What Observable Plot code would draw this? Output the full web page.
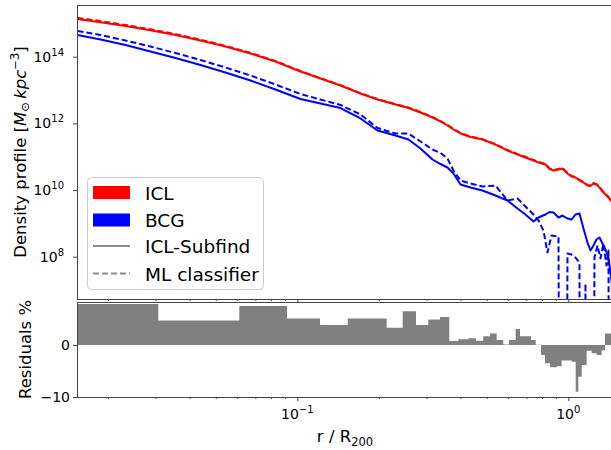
<!DOCTYPE html>
<html><head><meta charset="utf-8">
<script src="https://cdn.jsdelivr.net/npm/d3@7"></script>
<script src="https://cdn.jsdelivr.net/npm/@observablehq/plot@0.6"></script>
<style>
body{margin:0;background:#fff;}
#wrap{position:relative;width:611px;height:450px;overflow:hidden;background:#fff;}
#topPanel{position:absolute;left:0;top:0;}
#botPanel{position:absolute;left:0;top:302px;}
svg{font-family:"DejaVu Sans",sans-serif;}
</style></head><body><div id="wrap"><div id="topPanel"></div><div id="botPanel"></div></div>
<script>
// radius in units of R200 (shared grid for ICL and BCG Subfind profiles)
const r = [0.01538, 0.01871, 0.02313, 0.02860, 0.03537, 0.04375, 0.05409, 0.06690, 0.08273, 0.1023,
  0.1213, 0.1438, 0.1703, 0.1968, 0.2293, 0.2561, 0.2836, 0.3141, 0.3363, 0.3567,
  0.3753, 0.3985, 0.4338, 0.4802, 0.5365, 0.5940, 0.6466, 0.6920, 0.7407, 0.7730,
  0.8204, 0.8487, 0.8780, 0.9163, 0.9480, 0.9890, 1.0233, 1.0585, 1.0951, 1.1330,
  1.1722, 1.2025, 1.2334, 1.2652, 1.2981, 1.3317, 1.3659, 1.4012, 1.4376, 1.4870];
// density profiles [M_sun kpc^-3]
const iclSubfind = [1.40e15, 1.11e15, 8.63e14, 6.41e14, 4.63e14, 3.17e14, 2.09e14, 1.29e14, 7.43e13, 3.72e13,
  2.30e13, 1.42e13, 8.14e12, 5.38e12, 3.81e12, 2.99e12, 2.19e12, 1.55e12, 1.18e12, 8.93e11,
  6.78e11, 5.14e11, 4.04e11, 3.40e11, 2.40e11, 1.59e11, 1.20e11, 9.79e10, 7.96e10, 6.93e10,
  6.04e10, 4.42e10, 3.99e10, 4.27e10, 4.58e10, 3.24e10, 2.64e10, 2.46e10, 2.00e10, 1.74e10,
  1.41e10, 1.37e10, 1.62e10, 1.52e10, 1.23e10, 9.35e9, 7.60e9, 6.18e9, 4.69e9, 3.56e9];
const iclML = [1.52e15, 1.21e15, 9.31e14, 6.87e14, 4.93e14, 3.35e14, 2.20e14, 1.35e14, 7.69e13, 3.85e13,
  2.36e13, 1.45e13, 8.37e12, 5.57e12, 3.92e12, 3.10e12, 2.27e12, 1.60e12, 1.21e12, 9.24e11,
  7.06e11, 5.32e11, 4.18e11, 3.49e11, 2.47e11, 1.64e11, 1.25e11, 1.03e11, 8.24e10, 7.22e10,
  6.34e10, 4.64e10, 4.13e10, 4.45e10, 4.71e10, 3.38e10, 2.75e10, 2.53e10, 2.10e10, 1.80e10,
  1.47e10, 1.41e10, 1.67e10, 1.57e10, 1.29e10, 9.81e9, 7.86e9, 6.48e9, 4.88e9, 3.81e9];
const bcgSubfind = [4.63e14, 3.40e14, 2.32e14, 1.48e14, 9.46e13, 5.83e13, 3.48e13, 2.00e13, 1.07e13, 5.57e12,
  4.08e12, 2.99e12, 1.45e12, 6.32e11, 4.48e11, 3.40e11, 1.82e11, 8.53e10, 6.25e10, 4.91e10,
  3.24e10, 1.52e10, 1.23e10, 1.00e10, 7.09e9, 5.02e9, 2.89e9, 1.91e9, 1.18e9, 1.55e9,
  1.91e9, 2.27e9, 2.19e9, 1.55e9, 1.78e9, 1.45e9, 1.35e9, 1.91e9, 2.05e9, 7.25e8,
  2.75e8, 1.59e8, 2.24e8, 3.39e8, 3.89e8, 2.57e8, 1.70e8, 9.77e7, 2.00e7, 6.3e5];
// BCG from the ML classifier (own radial grid; 0 = empty bin)
const rML = [0.01538, 0.01871, 0.02313, 0.02860, 0.03537, 0.04375, 0.05409, 0.06690, 0.08273, 0.1023,
  0.1213, 0.1438, 0.1703, 0.1968, 0.2293, 0.2561, 0.2836, 0.3141, 0.3363, 0.3567,
  0.3753, 0.3985, 0.4338, 0.4802, 0.5365, 0.5940, 0.6466, 0.6920, 0.7407, 0.7730,
  0.8065, 0.8344, 0.8634, 0.9163, 0.9480, 0.9890, 1.0233, 1.0585, 1.0951, 1.1236,
  1.1522, 1.1922, 1.2439, 1.2761, 1.3092, 1.3428, 1.3776, 1.4012, 1.4376, 1.4870];
const bcgML = [6.11e14, 4.63e14, 3.17e14, 2.09e14, 1.34e14, 8.24e13, 4.91e13, 2.82e13, 1.52e13, 7.87e12,
  5.38e12, 3.68e12, 1.91e12, 7.51e11, 5.14e11, 5.14e11, 2.96e11, 1.70e11, 1.34e11, 9.14e10,
  3.99e10, 2.00e10, 1.62e10, 1.32e10, 1.41e10, 5.02e9, 5.77e9, 3.32e9, 1.91e9, 1.26e9,
  6.31e8, 1.38e8, 4.47e8, 4.17e8, 0, 1.29e8, 1.20e8, 9.77e7, 6.92e7, 0,
  1.62e7, 0, 9.77e7, 2.24e8, 9.12e7, 2.57e8, 5.62e7, 1.59e8, 0, 0];
// residual histogram: bin edges (r / R200) and residual values (%)
const residEdges = [0.01548, 0.03069, 0.06109, 0.09162, 0.1213, 0.1535, 0.2137, 0.2448, 0.2742, 0.3043,
  0.3363, 0.3638, 0.3927, 0.4276, 0.4563, 0.4855, 0.5141, 0.5441, 0.5754, 0.6041,
  0.6395, 0.6634, 0.7284, 0.7580, 0.7933, 0.8204, 0.8560, 0.9062, 0.9454, 1.029,
  1.065, 1.089, 1.121, 1.169, 1.220, 1.273, 1.328, 1.366, 1.438];
const residValues = [7.9, 4.7, 7.5, 5.1, 3.85, 5.1, 3.3, 6.5, 3.85, 4.9,
  5.4, 0.77, 1.1, 1.3, 0.8, 1.7, 2.2, 0.96, 0.1, 0.96,
  3.1, 1.7, 0.96, 0.05, -1.9, -3.5, -4.3, -4.1, -3.0, -3.2,
  -9.0, -6.1, -3.85, -1.1, -1.6, -1.9, -1.0, 2.2];
// axes
const xDomain = [0.01538, 1.4376];
const yDomainTop = [Math.pow(10, 6.731), Math.pow(10, 15.551)];
const yDomainBot = [-10, 8.27];
const xMajor = [0.1, 1];
const xMajorExp = ["\u22121", "0"];
const xMinor = [0.02, 0.03, 0.04, 0.05, 0.06, 0.07, 0.08, 0.09, 0.2, 0.3, 0.4, 0.5, 0.6, 0.7, 0.8, 0.9];
const yTopTicks = [1e8, 1e10, 1e12, 1e14];
const yTopExp = ["8", "10", "12", "14"];
const yBotTicks = [-10, 0];
const yBotLabels = ["\u221210", "0"];

const prof = r.map((v, i) => ({r: v, iclS: iclSubfind[i], iclM: iclML[i], bcgS: bcgSubfind[i]}));
const profML = rML.map((v, i) => ({r: v, y: bcgML[i]}));
const floorV = v => Math.max(v, 1e-30);
const resid = residEdges.map((e, i) => ({r: e, v: residValues[Math.min(i, residValues.length - 1)]}));

const AX = "#444";
const plotTop = Plot.plot({
  width: 611, height: 302,
  marginLeft: 77, marginRight: 0, marginTop: 5, marginBottom: 3,
  style: {background: "white", overflow: "visible"},
  x: {type: "log", domain: xDomain},
  y: {type: "log", domain: yDomainTop},
  marks: [
    Plot.line(prof, {x: "r", y: "iclS", stroke: "#ff0000", strokeWidth: 2, clip: true}),
    Plot.line(prof, {x: "r", y: "iclM", stroke: "#ff0000", strokeWidth: 2, strokeDasharray: "6,3", strokeLinecap: "butt", clip: true}),
    Plot.line(prof, {x: "r", y: "bcgS", stroke: "#0000ff", strokeWidth: 2, clip: true}),
    Plot.line(profML, {x: "r", y: d => floorV(d.y), stroke: "#0000ff", strokeWidth: 2, strokeDasharray: "6,3", strokeLinecap: "butt", clip: true}),
    Plot.axisX({ticks: xMajor, tickSize: 3, tickFormat: () => "", label: null, stroke: AX}),
    Plot.axisX({ticks: xMinor, tickSize: 2, tickFormat: () => "", label: null, stroke: AX}),
    Plot.axisY({ticks: yTopTicks, tickSize: 4, tickFormat: () => "", label: null, stroke: AX}),
    Plot.ruleX([xDomain[0]], {stroke: AX}),
    Plot.ruleY([yDomainTop[0], yDomainTop[1]], {stroke: AX})
  ]
});
document.getElementById("topPanel").append(plotTop);

const plotBot = Plot.plot({
  width: 611, height: 148,
  marginLeft: 77, marginRight: 0, marginTop: 0, marginBottom: 53,
  style: {background: "white", overflow: "visible"},
  x: {type: "log", domain: xDomain},
  y: {domain: yDomainBot},
  marks: [
    Plot.areaY(resid, {x: "r", y: "v", curve: "step-after", fill: "#808080", clip: true}),
    Plot.axisX({ticks: xMajor, tickSize: 4, tickFormat: () => "", label: null, stroke: AX}),
    Plot.axisX({ticks: xMinor, tickSize: 2, tickFormat: () => "", label: null, stroke: AX}),
    Plot.axisY({ticks: yBotTicks, tickSize: 4, tickFormat: () => "", label: null, stroke: AX}),
    Plot.ruleX([xDomain[0]], {stroke: AX}),
    Plot.ruleY(yDomainBot, {stroke: AX})
  ]
});
document.getElementById("botPanel").append(plotBot);

// ---- text decorations (tick labels with superscripts, axis labels, legend)
const st = d3.select(plotTop), sb = d3.select(plotBot);
const ysT = plotTop.scale("y"), xsB = plotBot.scale("x"), ysB = plotBot.scale("y");
const FS = 14, SUP = 10, LAB = 16.5;

yTopTicks.forEach((t, i) => {
  const y = ysT.apply(t);
  const tx = st.append("text").attr("x", 64).attr("y", y + 5).attr("text-anchor", "end")
    .attr("font-size", FS).attr("fill", "#000");
  tx.append("tspan").text("10");
  tx.append("tspan").attr("font-size", SUP).attr("dy", -6).text(yTopExp[i]);
});
yBotTicks.forEach((t, i) => {
  sb.append("text").attr("x", 70).attr("y", ysB.apply(t) + 5).attr("text-anchor", "end")
    .attr("font-size", FS).attr("fill", "#000").text(yBotLabels[i]);
});
xMajor.forEach((t, i) => {
  const tx = sb.append("text").attr("x", xsB.apply(t)).attr("y", 117).attr("text-anchor", "middle")
    .attr("font-size", FS).attr("fill", "#000");
  tx.append("tspan").text("10");
  tx.append("tspan").attr("font-size", SUP).attr("dy", -6).text(xMajorExp[i]);
});

// x label
{
  const tx = sb.append("text").attr("x", 345).attr("y", 140).attr("text-anchor", "middle")
    .attr("font-size", LAB).attr("fill", "#000");
  tx.append("tspan").text("r / R");
  tx.append("tspan").attr("font-size", 11.5).attr("dy", 4).text("200");
}
// y labels
{
  const tx = st.append("text").attr("transform", "translate(26,152) rotate(-90)").attr("text-anchor", "middle")
    .attr("font-size", LAB).attr("fill", "#000");
  tx.append("tspan").text("Density profile [");
  tx.append("tspan").attr("font-style", "italic").text("M");
  tx.append("tspan").attr("font-size", 11.5).attr("dy", 3).text("\u2299");
  tx.append("tspan").attr("dy", -3).text("\u2009");
  tx.append("tspan").attr("font-style", "italic").text("kpc");
  tx.append("tspan").attr("font-size", 11.5).attr("dy", -7).text("\u22123");
  tx.append("tspan").attr("dy", 7).text("]");
}
sb.append("text").attr("transform", "translate(31,47.5) rotate(-90)").attr("text-anchor", "middle")
  .attr("font-size", LAB).attr("fill", "#000").text("Residuals %");

// legend
{
  const lg = st.append("g");
  lg.append("rect").attr("x", 87.5).attr("y", 177.5).attr("width", 176).attr("height", 112).attr("rx", 4)
    .attr("fill", "#fff").attr("fill-opacity", 0.8).attr("stroke", "#cccccc");
  const items = [
    {label: "ICL", kind: "patch", color: "#ff0000", y: 192.5},
    {label: "BCG", kind: "patch", color: "#0000ff", y: 220},
    {label: "ICL-Subfind", kind: "line", color: "#8c8c8c", y: 246},
    {label: "ML classifier", kind: "dash", color: "#8c8c8c", y: 273.5}
  ];
  items.forEach(it => {
    if (it.kind === "patch") {
      lg.append("rect").attr("x", 93).attr("y", it.y - 6.5).attr("width", 37).attr("height", 13).attr("fill", it.color);
    } else {
      lg.append("line").attr("x1", 93).attr("x2", 130).attr("y1", it.y).attr("y2", it.y)
        .attr("stroke", it.color).attr("stroke-width", 2).attr("stroke-dasharray", it.kind === "dash" ? "6,3" : null);
    }
    lg.append("text").attr("x", 145).attr("y", it.y + 7).attr("text-anchor", "start")
      .attr("font-size", 18.5).attr("fill", "#000").text(it.label);
  });
}
</script></body></html>
